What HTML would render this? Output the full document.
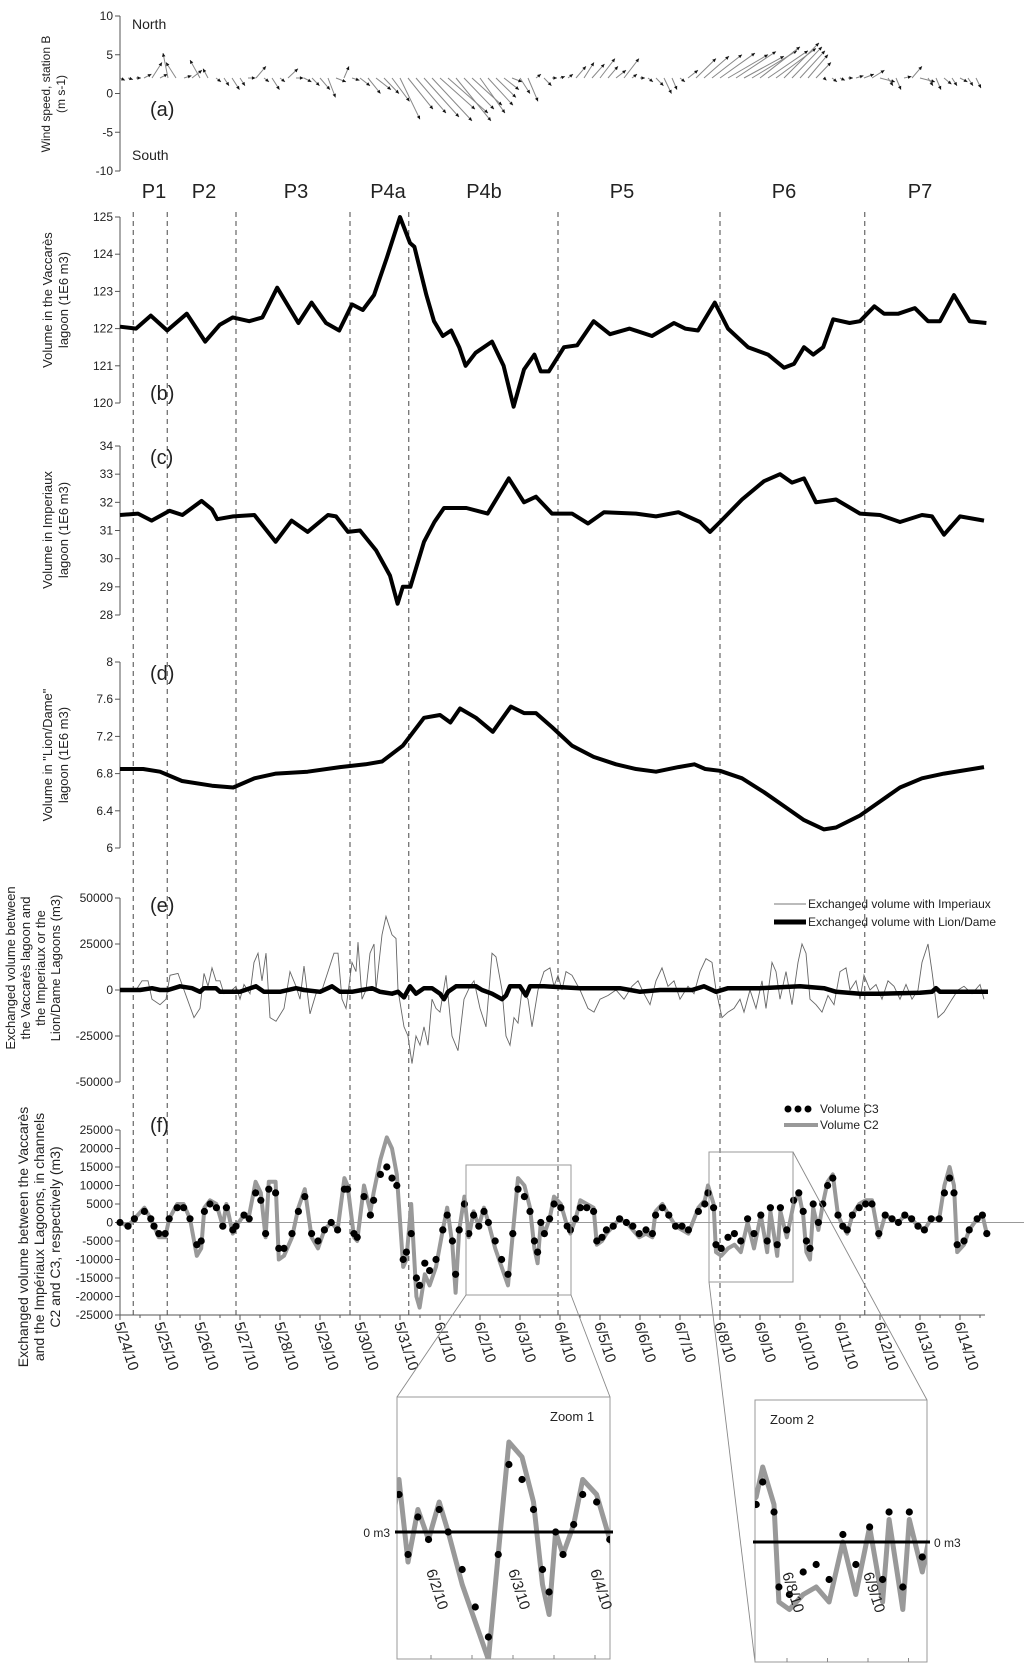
<!DOCTYPE html>
<html><head><meta charset="utf-8"><style>
html,body{margin:0;padding:0;background:#fff}
svg{display:block}
text{font-family:"Liberation Sans",sans-serif;fill:#222}
</style></head><body>
<svg id="chart" width="1024" height="1669" viewBox="0 0 1024 1669" xmlns="http://www.w3.org/2000/svg">
</svg>
<script>
// ---------- DATA ----------
const windStep = 0.2;
const windU = [1,1,1,1.5,2,1.5,-1,-2,1.5,2,-2,-1,1,
 1,1.5,1,1.5,2,1,1.5,1,2,1.5,1.5,1.5,2,1.5,2,1,1.5,2,2.5,3,3,3.5,
 4,5,6,7,8,7,8,7,6,6,5,5,4,3,2,
 2,2,1,1.5,1,1,1,2,2,2.5,3,2,2,3,1,1,1,1.5,1.5,1,
 1,2,4,5,6,7,8,8,8,9,8,8,8,7,6,5,4,3,
 0.5,1,1,1,1.5,2,2.5,3,1,1,1.5,2,3,1,1,1.5,1,1.5,1,1];
const windV = [-0.3,-0.2,0,0.5,2,0.5,3.2,2,0.3,1,2.3,1.2,-0.5,
 -1,-1.5,-1,0,1.5,-0.5,-1.5,-0.5,1.2,0,-0.5,-1,-1.5,-2.5,-0.5,1.5,-0.3,-1,-2,-1.5,-2,-3,
 -5.3,-4,-4.5,-5,-5.5,-4,-4.5,-5.5,-4,-3.5,-4.5,-3.5,-2.5,-1.5,-0.5,
 -2,-3,0.5,-1,0,0.2,0.5,1.5,2,1.8,2.5,1.5,1,2.5,0.5,0,-0.5,-1,-2,-1.5,
 -0.5,1,2.5,2.8,3,3.2,3,3.4,2.8,3.5,4,3.5,3.8,4.5,4,3.5,3,2,
 -0.3,-0.5,-0.3,0,0.3,0.5,1,-0.5,-1,-1.5,0.2,1.5,-0.5,-1,-1.5,-0.8,-1,-0.5,-1,-1.3];

const vacDays = [0,0.4,0.77,1.18,1.67,2.13,2.49,2.82,3.23,3.56,3.93,4.46,4.79,5.15,5.48,5.8,6.07,6.35,6.67,7.0,7.25,7.36,7.66,7.85,8.07,8.28,8.48,8.64,8.89,9.3,9.59,9.84,10.1,10.36,10.52,10.72,11.1,11.43,11.84,12.25,12.74,13.3,13.85,14.13,14.45,14.87,15.2,15.7,16.2,16.6,16.85,17.1,17.33,17.58,17.83,18.24,18.5,18.86,19.1,19.46,19.87,20.2,20.5,20.85,21.24,21.66];
const vacVals = [122.05,122.0,122.35,121.95,122.4,121.65,122.1,122.3,122.2,122.3,123.1,122.15,122.7,122.15,121.95,122.65,122.5,122.9,123.9,125.0,124.3,124.2,122.9,122.2,121.8,121.95,121.5,121.0,121.35,121.65,121.0,119.9,120.9,121.3,120.85,120.85,121.5,121.55,122.2,121.85,122.0,121.8,122.15,122.0,121.95,122.7,122.0,121.5,121.3,120.95,121.05,121.5,121.3,121.5,122.25,122.15,122.2,122.6,122.4,122.4,122.55,122.2,122.2,122.9,122.2,122.15];

const impDays = [0,0.45,0.79,1.24,1.56,2.04,2.3,2.43,2.83,3.36,3.89,4.29,4.69,5.2,5.4,5.7,6.0,6.4,6.75,6.94,7.07,7.26,7.6,7.86,8.1,8.66,9.19,9.72,10.1,10.4,10.8,11.3,11.7,12.1,12.9,13.4,13.96,14.5,14.75,15.0,15.55,16.1,16.5,16.8,17.1,17.4,17.9,18.5,19.0,19.5,20.05,20.3,20.6,21.0,21.6];
const impVals = [31.55,31.6,31.35,31.7,31.55,32.05,31.75,31.4,31.5,31.55,30.6,31.35,30.95,31.55,31.5,30.95,31.0,30.3,29.4,28.4,29.0,29.0,30.6,31.3,31.8,31.8,31.6,32.85,32.0,32.2,31.6,31.6,31.25,31.65,31.6,31.5,31.65,31.3,30.95,31.3,32.1,32.75,33.0,32.7,32.85,32.0,32.1,31.6,31.55,31.3,31.55,31.5,30.85,31.5,31.35];

const lionDays = [0,0.58,1.0,1.55,2.3,2.83,3.36,3.9,4.69,5.5,6.14,6.55,7.07,7.6,8.0,8.26,8.5,8.9,9.32,9.77,10.1,10.4,10.8,11.3,11.84,12.4,12.9,13.4,13.96,14.36,14.63,15.0,15.55,16.1,16.6,17.1,17.6,17.9,18.5,19.0,19.5,20.05,20.6,21.6];
const lionVals = [6.85,6.85,6.82,6.72,6.67,6.65,6.75,6.8,6.82,6.87,6.9,6.93,7.1,7.4,7.43,7.35,7.5,7.4,7.25,7.52,7.45,7.45,7.3,7.1,6.98,6.9,6.85,6.82,6.87,6.9,6.85,6.83,6.75,6.6,6.45,6.3,6.2,6.22,6.35,6.5,6.65,6.75,6.8,6.87];

const exImpDays = [0,0.4,0.55,0.7,0.8,1.0,1.15,1.25,1.45,1.6,1.85,2.0,2.1,2.2,2.3,2.4,2.5,2.6,2.75,2.9,3.0,3.1,3.25,3.35,3.45,3.55,3.65,3.75,3.9,4.1,4.25,4.4,4.5,4.6,4.75,4.9,5.05,5.2,5.35,5.45,5.55,5.65,5.8,5.9,5.95,6.05,6.15,6.25,6.35,6.4,6.55,6.65,6.8,6.9,6.95,7.1,7.2,7.3,7.4,7.5,7.6,7.7,7.8,7.9,8.0,8.15,8.3,8.45,8.6,8.75,8.85,9.0,9.15,9.3,9.4,9.55,9.65,9.75,9.85,9.95,10.05,10.2,10.3,10.45,10.6,10.75,10.85,10.95,11.05,11.15,11.3,11.5,11.7,11.85,12.0,12.2,12.4,12.6,12.8,12.95,13.1,13.25,13.4,13.55,13.7,13.85,14.0,14.2,14.35,14.5,14.65,14.8,14.9,15.05,15.2,15.35,15.5,15.6,15.75,15.9,16.05,16.15,16.3,16.4,16.5,16.65,16.8,16.95,17.05,17.15,17.25,17.4,17.55,17.7,17.85,18.0,18.15,18.25,18.4,18.5,18.6,18.75,18.9,19.05,19.2,19.35,19.5,19.65,19.8,19.95,20.05,20.2,20.3,20.45,20.6,20.8,20.95,21.1,21.3,21.5,21.6];
const exImpVals = [0,0,5,5,-5,-8,-5,8,9,0,-15,-10,9,2,12,5,5,-2,-1,2,-5,3,-2,15,20,5,20,-15,-17,-10,10,2,-5,13,-13,-2,0,10,20,20,-5,-10,15,10,26,-5,0,20,25,0,30,40,30,28,0,-20,-25,-40,-25,-30,-20,-30,-5,-10,-12,8,-25,-33,-5,2,5,-10,-20,20,18,0,-25,-30,-15,-18,0,-5,-20,0,10,12,2,8,0,10,8,0,-10,-12,-5,-3,0,-5,2,5,-2,-8,5,12,2,5,-5,2,-2,10,17,15,0,-15,-12,-10,-5,-12,0,-10,5,-10,15,10,-5,10,-8,15,25,20,-5,-8,-12,-3,-8,10,12,0,5,-5,8,0,3,-5,5,2,-5,3,-5,0,15,25,10,-15,-12,-5,0,2,-2,3,-5];

const exLionDays = [0,0.5,0.8,1.0,1.2,1.5,1.8,2.0,2.1,2.4,2.5,3.0,3.4,3.6,4.0,4.4,4.6,5.0,5.3,5.5,5.8,6.05,6.3,6.5,6.8,6.95,7.1,7.25,7.4,7.6,7.8,8.0,8.1,8.2,8.4,8.9,9.05,9.3,9.55,9.65,9.75,10.0,10.15,10.25,10.6,11.5,12.5,13.0,13.5,14.3,14.6,14.9,15.2,16.0,17.0,17.6,17.9,18.5,19.0,20.0,20.3,20.4,20.5,21.7];
const exLionVals = [0,0,1,0,0,2,1,-1,1,1,-1,-1,2,-1,-1,1,0,-1,2,-1,-1,0,1,-1,-2,-1,-4,2,-2,1,1,-2,-5,-1,2,2,0,-2,-5,-3,2,2,-3,2,2,1,1,-1,0,0,2,-1,1,1,2,1,-1,-2,-2,-1.5,-1,1,-1,-1];

const chDays = [0,0.2,0.36,0.61,0.77,0.85,0.97,1.13,1.23,1.43,1.59,1.75,1.92,2.03,2.11,2.25,2.41,2.57,2.66,2.82,2.9,3.1,3.23,3.39,3.52,3.64,3.72,3.89,3.97,4.1,4.3,4.46,4.62,4.79,4.95,5.11,5.28,5.44,5.61,5.69,5.85,5.93,6.1,6.26,6.34,6.51,6.67,6.8,6.92,7.08,7.16,7.28,7.41,7.49,7.62,7.74,7.9,8.07,8.18,8.31,8.39,8.48,8.61,8.72,8.84,8.97,9.1,9.21,9.38,9.54,9.7,9.82,9.95,10.11,10.25,10.36,10.44,10.52,10.61,10.74,10.85,11.02,11.18,11.26,11.39,11.51,11.67,11.84,11.92,12.05,12.16,12.33,12.49,12.66,12.82,12.98,13.15,13.31,13.39,13.56,13.72,13.89,14.05,14.21,14.46,14.62,14.7,14.84,14.9,15.03,15.2,15.36,15.52,15.69,15.85,16.02,16.18,16.26,16.43,16.51,16.67,16.84,16.97,17.08,17.16,17.25,17.33,17.46,17.57,17.69,17.82,17.95,18.07,18.18,18.31,18.48,18.64,18.8,18.97,19.13,19.3,19.46,19.62,19.79,19.95,20.11,20.28,20.48,20.61,20.74,20.85,20.93,21.1,21.23,21.43,21.56,21.67];
const c3Vals = [0,-1,1,3,1,-1,-3,-3,1,4, 4,1,-6,-5,3,5,4,-1,4,-2, -1,2,1,8,6,-3,9,8,-7,-7, -3,3,7,-3,-5,-2,0,-2,9,9, -3,-4,7,2,6,13,15,12,10,-10, -8,-3,-15,-17,-11,-13,-10,-2,2,-5, -14,-2,5,-3,2,-1,3,0,-5,-10, -14,-3,9,7,3,-5,-8,0,-3,1, 5,4,-1,-2,1,4,4,3,-5,-4, -2,-1,1,0,-1,-3,-2,-3,2,4, 2,-1,-1,-2,3,5,8,4,-6,-7, -4,-3,-5,1,-3,2,-5,4,-6,4, -2,6,8,3,-5,-7,5,0,5,10, 12,2,-1,-2,2,4,5,5,-3,2, 1,0,2,1,-1,-2,1,1,8,12, 8,-6,-5,-2,1,2,-3];
const c2Vals = [0,-1,1,4,1,-1,-4,-4,1,5, 5,1,-9,-7,4,6,5,-1,5,-3, -1,2,2,11,8,-4,11,11,-10,-9, -4,4,9,-4,-7,-2,0,-2,12,10, -4,-5,10,3,8,17,23,20,13,-12, -10,5,-20,-23,-14,-17,-12,-2,4,-6, -19,-2,7,-4,3,-1,4,0,-7,-12, -17,-3,12,10,4,-7,-11,0,-3,1, 7,5,-1,-3,1,6,5,4,-6,-5, -3,-1,1,0,-2,-4,-3,-4,3,5, 2,-1,-2,-3,4,6,10,5,-8,-9, -7,-6,-8,0,-7,2,-8,3,-9,3, -4,5,8,2,-8,-10,4,-2,5,11, 13,2,-1,-3,2,5,6,6,-4,2, 1,0,2,1,-1,-2,1,1,10,15, 10,-8,-6,-2,1,2,-3];

const dateLabels = ["5/24/10","5/25/10","5/26/10","5/27/10","5/28/10","5/29/10","5/30/10","5/31/10","6/1/10","6/2/10","6/3/10","6/4/10","6/5/10","6/6/10","6/7/10","6/8/10","6/9/10","6/10/10","6/11/10","6/12/10","6/13/10","6/14/10"];
const periodNames = ["P1","P2","P3","P4a","P4b","P5","P6","P7"];
const periodDays = [0.85,2.1,4.4,6.7,9.1,12.55,16.6,20.0];
const boundaryDays = [0.33,1.18,2.9,5.75,7.22,10.95,15.0,18.62];

// ---------- HELPERS ----------
const NS = "http://www.w3.org/2000/svg";
const svg = document.getElementById('chart');
function mk(tag, attrs, parent, txt){
  const e = document.createElementNS(NS, tag);
  for (const k in attrs) e.setAttribute(k, attrs[k]);
  if (txt !== undefined) e.textContent = txt;
  (parent || svg).appendChild(e);
  return e;
}
const xDay = d => 120 + 40*d;
function yLin(top, bot, vTop, vBot){ return v => top + (vTop - v) * (bot - top) / (vTop - vBot); }

const yA = yLin(16,171,10,-10);
const yB = yLin(217,403,125,120);
const yC = yLin(446,615,34,28);
const yD = yLin(662,848,8,6);
const yE = yLin(898,1082,50,-50);
const yF = yLin(1130,1315,25,-25);

function yAxis(name, top, bot, ticks, yf, fmt){
  const g = mk('g', {});
  
  
  mk('line', {x1:120,y1:top,x2:120,y2:bot,stroke:'#555','stroke-width':1}, g);
  ticks.forEach(t => {
    const y = yf(t);
    mk('line', {x1:115,y1:y,x2:120,y2:y,stroke:'#555','stroke-width':1}, g);
    const tl = mk('text', {x:113,y:y+4,'text-anchor':'end','font-size':12}, g, fmt ? fmt(t) : String(t));
    
    
  });
}
function yTitle(name, lines, xs, cy, size){
  const g = mk('g', {});
  
  
  lines.forEach((l,i) => {
    mk('text', {x:xs[i], y:cy, 'text-anchor':'middle','font-size':size||13, transform:`rotate(-90 ${xs[i]} ${cy})`}, g, l);
  });
}
function pathFrom(days, vals, xf, yf){
  return days.map((d,i)=>(i?'L':'M')+xf(d).toFixed(1)+','+yf(vals[i]).toFixed(1)).join('');
}
function label(name, x, y, size, txt){
  const t = mk('text', {x:x, y:y, 'font-size':size}, svg, txt);
  
  
  return t;
}

// ---------- PANEL A: wind ----------
yAxis('wind-y-axis', 16, 171, [10,5,0,-5,-10], yA);
yTitle('wind-y-axis-title', ['Wind speed, station B','(m s-1)'], [50,65], 94, 12);
label('north-label', 132, 29, 14, 'North');
label('south-label', 132, 160, 14, 'South');
label('panel-a-label', 150, 116, 20, '(a)');
const gWind = mk('g', {});


const base = yA(2);
windV.forEach((v,i) => {
  const x0 = xDay(i*windStep);
  const x1 = x0 + windU[i]*5, y1 = base - v*7.8;
  const ln = mk('line', {x1:x0,y1:base,x2:x1,y2:y1,stroke:'#888','stroke-width':1}, gWind);
  
  
  const ang = Math.atan2(y1-base, x1-x0);
  const a1 = ang + Math.PI - 0.45, a2 = ang + Math.PI + 0.45;
  const hd = mk('path', {d:`M${x1},${y1}L${x1+4*Math.cos(a1)},${y1+4*Math.sin(a1)}L${x1+4*Math.cos(a2)},${y1+4*Math.sin(a2)}Z`, fill:'#111'}, gWind);
  
  
});

// ---------- Period labels & boundaries ----------
periodNames.forEach((p,i) => {
  const t = mk('text', {x:xDay(periodDays[i]), y:198, 'font-size':20, 'text-anchor':'middle'}, svg, p);
  
  
});
boundaryDays.forEach(d => {
  const l = mk('line', {x1:xDay(d), y1:212, x2:xDay(d), y2:1315, stroke:'#333','stroke-width':0.9,'stroke-dasharray':'5,4'});
  
  
});

// ---------- PANEL B ----------
yAxis('vaccares-y-axis', 217, 403, [120,121,122,123,124,125], yB);
yTitle('vaccares-y-axis-title', ['Volume in the Vaccarès','lagoon (1E6 m3)'], [52,68], 300);
label('panel-b-label', 150, 400, 20, '(b)');
let p = mk('path', {d:pathFrom(vacDays, vacVals, xDay, yB), fill:'none', stroke:'#000','stroke-width':4,'stroke-linejoin':'round'});



// ---------- PANEL C ----------
yAxis('imperiaux-y-axis', 446, 615, [28,29,30,31,32,33,34], yC);
yTitle('imperiaux-y-axis-title', ['Volume in Imperiaux','lagoon (1E6 m3)'], [52,68], 530);
label('panel-c-label', 150, 464, 20, '(c)');
p = mk('path', {d:pathFrom(impDays, impVals, xDay, yC), fill:'none', stroke:'#000','stroke-width':4,'stroke-linejoin':'round'});



// ---------- PANEL D ----------
yAxis('lion-dame-y-axis', 662, 848, [6,6.4,6.8,7.2,7.6,8], yD, t => (t%1===0)?String(t):t.toFixed(1));
yTitle('lion-dame-y-axis-title', ['Volume in "Lion/Dame"','lagoon (1E6 m3)'], [52,68], 755);
label('panel-d-label', 150, 680, 20, '(d)');
p = mk('path', {d:pathFrom(lionDays, lionVals, xDay, yD), fill:'none', stroke:'#000','stroke-width':4,'stroke-linejoin':'round'});



// ---------- PANEL E ----------
yAxis('exchange-y-axis', 898, 1082, [50,25,0,-25,-50], yE, t => String(t*1000));
yTitle('exchange-y-axis-title', ['Exchanged volume between','the Vaccarès lagoon and','the Imperiaux or the','Lion/Dame Lagoons (m3)'], [15,30,45,60], 968, 13);
label('panel-e-label', 150, 912, 20, '(e)');
p = mk('path', {d:pathFrom(exImpDays, exImpVals, xDay, yE), fill:'none', stroke:'#666','stroke-width':0.9});


p = mk('path', {d:pathFrom(exLionDays, exLionVals, xDay, yE), fill:'none', stroke:'#000','stroke-width':4.5,'stroke-linejoin':'round'});


let lg = mk('g', {});


mk('line', {x1:774,y1:904,x2:806,y2:904,stroke:'#777','stroke-width':1}, lg);
mk('text', {x:808,y:908,'font-size':12}, lg, 'Exchanged volume with Imperiaux');
mk('line', {x1:774,y1:922,x2:806,y2:922,stroke:'#000','stroke-width':5}, lg);
mk('text', {x:808,y:926,'font-size':12}, lg, 'Exchanged volume with Lion/Dame');

// ---------- PANEL F ----------
yAxis('channel-y-axis', 1130, 1315, [25,20,15,10,5,0,-5,-10,-15,-20,-25], yF, t => String(t*1000));
yTitle('channel-y-axis-title', ['Exchanged volume between the Vaccarès','and the Impériaux Lagoons, in channels','C2 and C3, respectively (m3)'], [28,44,60], 1237, 14);
label('panel-f-label', 150, 1132, 20, '(f)');
p = mk('line', {x1:120,y1:yF(0),x2:1024,y2:yF(0),stroke:'#999','stroke-width':1});


p = mk('path', {d:pathFrom(chDays, c2Vals, xDay, yF), fill:'none', stroke:'#999','stroke-width':4,'stroke-linejoin':'round'});


const gDots = mk('g', {});


c3Vals.forEach((v,i) => {
  const c = mk('circle', {cx:xDay(chDays[i]), cy:yF(v), r:3.6, fill:'#000'}, gDots);
  
  
});
lg = mk('g', {});


[788,798,808].forEach(x => mk('circle', {cx:x,cy:1109,r:3.5,fill:'#000'}, lg));
mk('text', {x:820,y:1113,'font-size':12}, lg, 'Volume C3');
mk('line', {x1:784,y1:1125,x2:818,y2:1125,stroke:'#999','stroke-width':4}, lg);
mk('text', {x:820,y:1129,'font-size':12}, lg, 'Volume C2');

// x axis
const gx = mk('g', {});


mk('line', {x1:120,y1:1315,x2:985,y2:1315,stroke:'#555','stroke-width':1}, gx);
for (let h=0; h<=43; h++){
  const x = xDay(h/2);
  mk('line', {x1:x,y1:1315,x2:x,y2:h%2?1318:1320,stroke:'#555','stroke-width':1}, gx);
}
dateLabels.forEach((d,i) => {
  const x = xDay(i) - 6, y = 1324;
  const t = mk('text', {x:x,y:y,'font-size':15,transform:`rotate(72 ${x} ${y})`}, gx, d);
  
  
});

// zoom boxes
function box(name, x1,y1,x2,y2){
  const r = mk('rect', {x:x1,y:y1,width:x2-x1,height:y2-y1,fill:'none',stroke:'#999','stroke-width':1});
  
  
}
box('zoom1-box', 466,1165,571,1295);
box('zoom2-box', 709,1152,793,1282);
[[466,1295,397,1397],[571,1295,610,1397],[709,1282,755,1662],[793,1152,927,1400]].forEach(l => {
  const e = mk('line', {x1:l[0],y1:l[1],x2:l[2],y2:l[3],stroke:'#888','stroke-width':0.9});
  
  
});

// insets
function inset(name, x1,y1,x2,y2, dayRef, xRef, pxPerDay, zeroY, pxPerK, title, titleX, zeroLabelX, zeroAnchor, labels){
  const g = mk('g', {});
  
  
  const cid = name + '-clip';
  const cp = mk('clipPath', {id:cid}, g);
  mk('rect', {x:x1,y:y1,width:x2-x1,height:y2-y1}, cp);
  mk('rect', {x:x1,y:y1,width:x2-x1,height:y2-y1,fill:'#fff',stroke:'#999','stroke-width':1}, g);
  const xf = d => xRef + (d - dayRef)*pxPerDay;
  const yf = v => zeroY - v*pxPerK;
  const cg = mk('g', {'clip-path':`url(#${cid})`}, g);
  const l2 = mk('path', {d:pathFrom(chDays, c2Vals, xf, yf), fill:'none', stroke:'#999','stroke-width':5,'stroke-linejoin':'round'}, cg);
  
  
  mk('line', {x1:x1-2,y1:zeroY,x2:x2+3,y2:zeroY,stroke:'#000','stroke-width':3}, g);
  c3Vals.forEach((v,i) => {
    const c = mk('circle', {cx:xf(chDays[i]), cy:yf(v), r:3.6, fill:'#000'}, cg);
    
    
  });
  for (let d = Math.ceil((dayRef-1)*2)/2; xf(d) <= x2; d += 0.5){
    if (xf(d) < x1) continue;
    mk('line', {x1:xf(d),y1:y2,x2:xf(d),y2:y2-4,stroke:'#888','stroke-width':1}, g);
  }
  labels.forEach((s,i) => {
    const x = xf(dayRef+i) - 5, y = y2 - 88;
    mk('text', {x:x,y:y,'font-size':15,transform:`rotate(72 ${x} ${y})`}, g, s);
  });
  mk('text', {x:titleX,y:y1+24,'font-size':13}, g, title);
  mk('text', {x:zeroLabelX,y:zeroY+5,'font-size':12,'text-anchor':zeroAnchor}, g, '0 m3');
}
inset('zoom1-inset', 397,1397,610,1659, 9, 431, 82, 1532, 7.5, 'Zoom 1', 550, 390, 'end', ['6/2/10','6/3/10','6/4/10']);
inset('zoom2-inset', 755,1400,927,1662, 15, 787, 81, 1542, 7.5, 'Zoom 2', 770, 934, 'start', ['6/8/10','6/9/10']);
</script>
</body></html>
